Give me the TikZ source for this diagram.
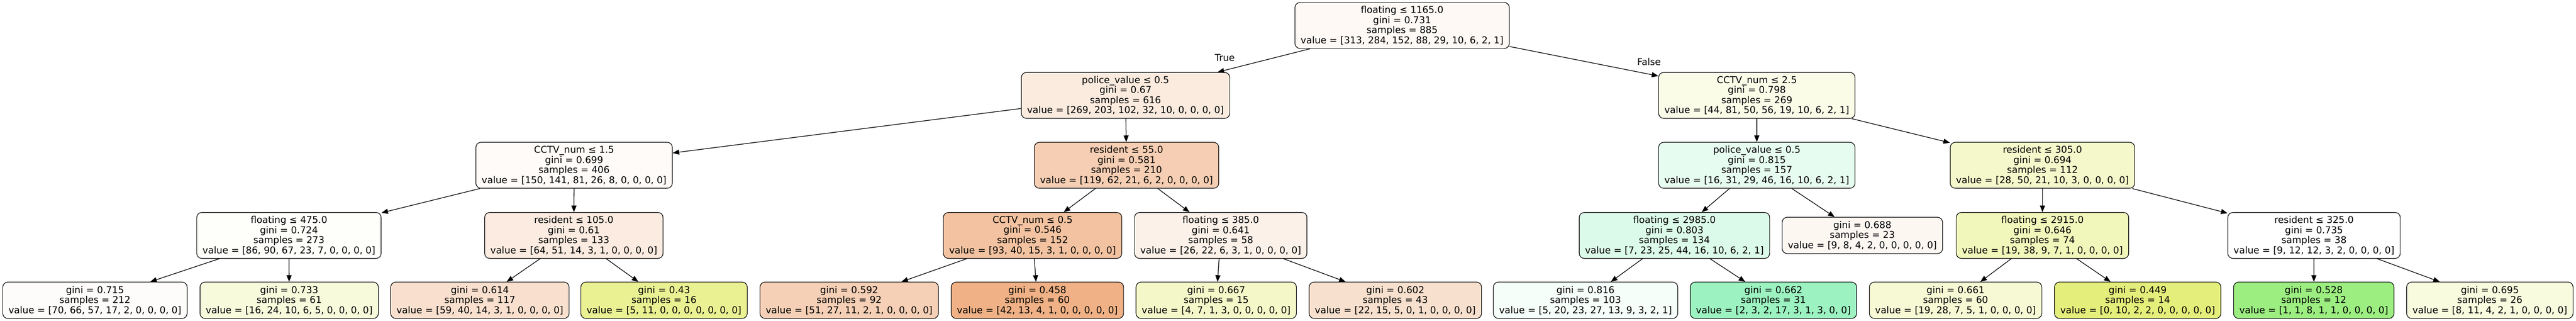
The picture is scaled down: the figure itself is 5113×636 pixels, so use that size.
\documentclass[tikz,border=0pt]{standalone}
\usepackage{fontspec}
\setmainfont{DejaVu Sans}
\usetikzlibrary{arrows.meta}
\definecolor{cRoot}{HTML}{FEF9F5}
\definecolor{cPa}{HTML}{FBEBDF}
\definecolor{cCa}{HTML}{FAFCE8}
\definecolor{cCb}{HTML}{FEFBF8}
\definecolor{cRa}{HTML}{F5CEB3}
\definecolor{cPb}{HTML}{E7FCF0}
\definecolor{cRb}{HTML}{F5F8CB}
\definecolor{cFa}{HTML}{FEFEFB}
\definecolor{cRc}{HTML}{FBEBE0}
\definecolor{cCc}{HTML}{F3C3A1}
\definecolor{cFb}{HTML}{FCF1E9}
\definecolor{cFc}{HTML}{DCFAE9}
\definecolor{cLx}{HTML}{FDF7F2}
\definecolor{cFd}{HTML}{F1F6BB}
\definecolor{cRd}{HTML}{FFFFFF}
\definecolor{cLa}{HTML}{FEFCFA}
\definecolor{cLb}{HTML}{F8FADC}
\definecolor{cLc}{HTML}{F9E0CE}
\definecolor{cLd}{HTML}{E9F193}
\definecolor{cLe}{HTML}{F5D0B6}
\definecolor{cLf}{HTML}{EFB185}
\definecolor{cLg}{HTML}{F4F8C9}
\definecolor{cLh}{HTML}{F8E0CE}
\definecolor{cLi}{HTML}{F5FEF9}
\definecolor{cLj}{HTML}{9CF2C0}
\definecolor{cLk}{HTML}{F6F9D4}
\definecolor{cLl}{HTML}{E4EE7B}
\definecolor{cLm}{HTML}{9CEE81}
\definecolor{cLn}{HTML}{F8FBDE}
\tikzset{
  tn/.style={draw=black, line width=1.2pt, rounded corners=10pt, align=center,
    inner xsep=11.5pt, inner ysep=0pt, minimum height=91pt,
    font=\fontsize{18.7}{20}\selectfont},
  lf/.style={tn, minimum height=72pt},
  ed/.style={line width=1.3pt, -{Triangle[length=13pt,width=10pt]}},
  elab/.style={font=\fontsize{18.7}{20}\selectfont}
}
\begin{document}
\begin{tikzpicture}[x=1pt,y=-1pt]
\useasboundingbox (0,0) rectangle (5113,636);
% level 0
\node[tn, fill=cRoot] (root) at (2783,50.5) {floating ≤ 1165.0\\gini = 0.731\\samples = 885\\value = [313, 284, 152, 88, 29, 10, 6, 2, 1]};
% level 1
\node[tn, fill=cPa] (pa) at (2234,189) {police\_value ≤ 0.5\\gini = 0.67\\samples = 616\\value = [269, 203, 102, 32, 10, 0, 0, 0, 0]};
\node[tn, fill=cCa] (ca) at (3487,189) {CCTV\_num ≤ 2.5\\gini = 0.798\\samples = 269\\value = [44, 81, 50, 56, 19, 10, 6, 2, 1]};
% level 2
\node[tn, fill=cCb] (cb) at (1139.5,327.5) {CCTV\_num ≤ 1.5\\gini = 0.699\\samples = 406\\value = [150, 141, 81, 26, 8, 0, 0, 0, 0]};
\node[tn, fill=cRa] (ra) at (2236,327.5) {resident ≤ 55.0\\gini = 0.581\\samples = 210\\value = [119, 62, 21, 6, 2, 0, 0, 0, 0]};
\node[tn, fill=cPb] (pb) at (3487,327.5) {police\_value ≤ 0.5\\gini = 0.815\\samples = 157\\value = [16, 31, 29, 46, 16, 10, 6, 2, 1]};
\node[tn, fill=cRb] (rb) at (4054,327.5) {resident ≤ 305.0\\gini = 0.694\\samples = 112\\value = [28, 50, 21, 10, 3, 0, 0, 0, 0]};
% level 3
\node[tn, fill=cFa] (fa) at (573.5,466.5) {floating ≤ 475.0\\gini = 0.724\\samples = 273\\value = [86, 90, 67, 23, 7, 0, 0, 0, 0]};
\node[tn, fill=cRc] (rc) at (1139,466.5) {resident ≤ 105.0\\gini = 0.61\\samples = 133\\value = [64, 51, 14, 3, 1, 0, 0, 0, 0]};
\node[tn, fill=cCc] (cc) at (2049.5,466.5) {CCTV\_num ≤ 0.5\\gini = 0.546\\samples = 152\\value = [93, 40, 15, 3, 1, 0, 0, 0, 0]};
\node[tn, fill=cFb] (fb) at (2423,466.5) {floating ≤ 385.0\\gini = 0.641\\samples = 58\\value = [26, 22, 6, 3, 1, 0, 0, 0, 0]};
\node[tn, fill=cFc] (fc) at (3323.5,466.5) {floating ≤ 2985.0\\gini = 0.803\\samples = 134\\value = [7, 23, 25, 44, 16, 10, 6, 2, 1]};
\node[lf, fill=cLx] (lx) at (3696.5,466.5) {gini = 0.688\\samples = 23\\value = [9, 8, 4, 2, 0, 0, 0, 0, 0]};
\node[tn, fill=cFd] (fd) at (4054,466.5) {floating ≤ 2915.0\\gini = 0.646\\samples = 74\\value = [19, 38, 9, 7, 1, 0, 0, 0, 0]};
\node[tn, fill=cRd] (rd) at (4593,466.5) {resident ≤ 325.0\\gini = 0.735\\samples = 38\\value = [9, 12, 12, 3, 2, 0, 0, 0, 0]};
% level 4
\node[lf, fill=cLa] (la) at (188.5,595) {gini = 0.715\\samples = 212\\value = [70, 66, 57, 17, 2, 0, 0, 0, 0]};
\node[lf, fill=cLb] (lb) at (574,595) {gini = 0.733\\samples = 61\\value = [16, 24, 10, 6, 5, 0, 0, 0, 0]};
\node[lf, fill=cLc] (lc) at (952.5,595) {gini = 0.614\\samples = 117\\value = [59, 40, 14, 3, 1, 0, 0, 0, 0]};
\node[lf, fill=cLd] (ld) at (1318,595) {gini = 0.43\\samples = 16\\value = [5, 11, 0, 0, 0, 0, 0, 0, 0]};
\node[lf, fill=cLe] (le) at (1685.5,595) {gini = 0.592\\samples = 92\\value = [51, 27, 11, 2, 1, 0, 0, 0, 0]};
\node[lf, fill=cLf] (lff) at (2059,595) {gini = 0.458\\samples = 60\\value = [42, 13, 4, 1, 0, 0, 0, 0, 0]};
\node[lf, fill=cLg] (lg) at (2414,595) {gini = 0.667\\samples = 15\\value = [4, 7, 1, 3, 0, 0, 0, 0, 0]};
\node[lf, fill=cLh] (lh) at (2769.5,595) {gini = 0.602\\samples = 43\\value = [22, 15, 5, 0, 1, 0, 0, 0, 0]};
\node[lf, fill=cLi] (li) at (3147,595) {gini = 0.816\\samples = 103\\value = [5, 20, 23, 27, 13, 9, 3, 2, 1]};
\node[lf, fill=cLj] (lj) at (3520,595) {gini = 0.662\\samples = 31\\value = [2, 3, 2, 17, 3, 1, 3, 0, 0]};
\node[lf, fill=cLk] (lk) at (3881.5,595) {gini = 0.661\\samples = 60\\value = [19, 28, 7, 5, 1, 0, 0, 0, 0]};
\node[lf, fill=cLl] (ll) at (4243,595) {gini = 0.449\\samples = 14\\value = [0, 10, 2, 2, 0, 0, 0, 0, 0]};
\node[lf, fill=cLm] (lm) at (4592.5,595) {gini = 0.528\\samples = 12\\value = [1, 1, 8, 1, 1, 0, 0, 0, 0]};
\node[lf, fill=cLn] (ln) at (4942,595) {gini = 0.695\\samples = 26\\value = [8, 11, 4, 2, 1, 0, 0, 0, 0]};
% edges
\draw[ed] (root) -- (pa);
\draw[ed] (root) -- (ca);
\draw[ed] (pa) -- (cb);
\draw[ed] (pa) -- (ra);
\draw[ed] (ca) -- (pb);
\draw[ed] (ca) -- (rb);
\draw[ed] (cb) -- (fa);
\draw[ed] (cb) -- (rc);
\draw[ed] (ra) -- (cc);
\draw[ed] (ra) -- (fb);
\draw[ed] (pb) -- (fc);
\draw[ed] (pb) -- (lx);
\draw[ed] (rb) -- (fd);
\draw[ed] (rb) -- (rd);
\draw[ed] (fa) -- (la);
\draw[ed] (fa) -- (lb);
\draw[ed] (rc) -- (lc);
\draw[ed] (rc) -- (ld);
\draw[ed] (cc) -- (le);
\draw[ed] (cc) -- (lff);
\draw[ed] (fb) -- (lg);
\draw[ed] (fb) -- (lh);
\draw[ed] (fc) -- (li);
\draw[ed] (fc) -- (lj);
\draw[ed] (fd) -- (lk);
\draw[ed] (fd) -- (ll);
\draw[ed] (rd) -- (lm);
\draw[ed] (rd) -- (ln);
% edge labels
\node[elab] (ltrue) at (2431,115) {True};
\node[elab] (lfalse) at (3273,122) {False};
\end{tikzpicture}
\end{document}
